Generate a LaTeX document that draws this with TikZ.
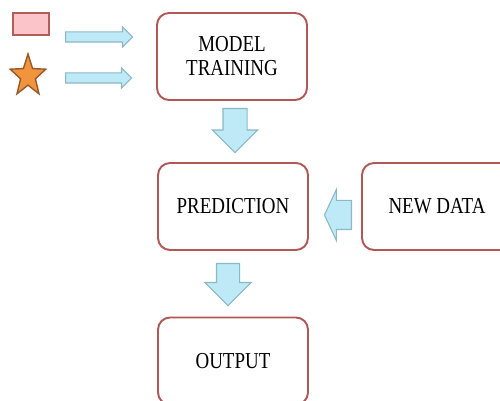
\documentclass[tikz,border=0pt]{standalone}
\usepackage{fontspec}
\setmainfont{Liberation Serif}[FakeStretch=0.83]
\usetikzlibrary{shapes.arrows,shapes.geometric}
\definecolor{boxred}{RGB}{176,88,88}
\definecolor{arrowfill}{RGB}{190,234,248}
\definecolor{arrowline}{RGB}{140,184,198}
\definecolor{rectfill}{RGB}{250,196,200}
\definecolor{rectline}{RGB}{178,92,92}
\definecolor{starfill}{RGB}{242,148,62}
\definecolor{starline}{RGB}{150,90,40}

\begin{document}
\begin{tikzpicture}
		[x=0.02cm,y=-0.02cm,
		 box/.style={draw=boxred,line width=1.1pt,rounded corners=0.24cm,minimum width=3cm,minimum height=1.74cm,align=center,font=\fontsize{13}{13.6}\selectfont},
		 blk/.style={single arrow,draw=arrowline,fill=arrowfill,line width=0.6pt,inner xsep=0pt,single arrow head indent=0pt,anchor=tail}]

		\clip (0,0) rectangle (500,401);

		\node[box] (train) at (232,56.5) {MODEL\\TRAINING}
		;

		\node[box] (pred) at (233,206.5) {PREDICTION}
		;

		\node[box] (newdata) at (437,206.5) {NEW DATA}
		;

		\node[box] (out) at (233,361) {OUTPUT}
		;

		% inputs
		\node[draw=rectline,fill=rectfill,line width=0.8pt,minimum width=0.72cm,minimum height=0.44cm,inner sep=0pt] (sample) at (31,24) {}
		;
		\node[star,star points=5,star point ratio=2.4,draw=starline,fill=starfill,line width=0.8pt,minimum size=0.88cm,inner sep=0pt,xscale=0.85] (label) at (28,76) {}
		;

		% block arrows
		\node[blk,minimum height=1.34cm,minimum width=0.38cm,inner ysep=0.09cm,single arrow head extend=0.1cm] (a1) at (65,37) {}
		;
		\node[blk,minimum height=1.32cm,minimum width=0.38cm,inner ysep=0.09cm,single arrow head extend=0.1cm] (a2) at (65,78) {}
		;
		\node[blk,rotate=-90,minimum height=0.88cm,minimum width=0.88cm,inner ysep=0.23cm,single arrow head extend=0.21cm] (d1) at (235,108) {}
		;
		\node[blk,rotate=-90,minimum height=0.84cm,minimum width=0.9cm,inner ysep=0.22cm,single arrow head extend=0.23cm] (d2) at (228,263) {}
		;
		\node[blk,rotate=180,minimum height=0.54cm,minimum width=1cm,inner ysep=0.28cm,single arrow head extend=0.22cm,single arrow tip angle=130] (l1) at (352,215) {}
		;

	\end{tikzpicture}
\end{document}
